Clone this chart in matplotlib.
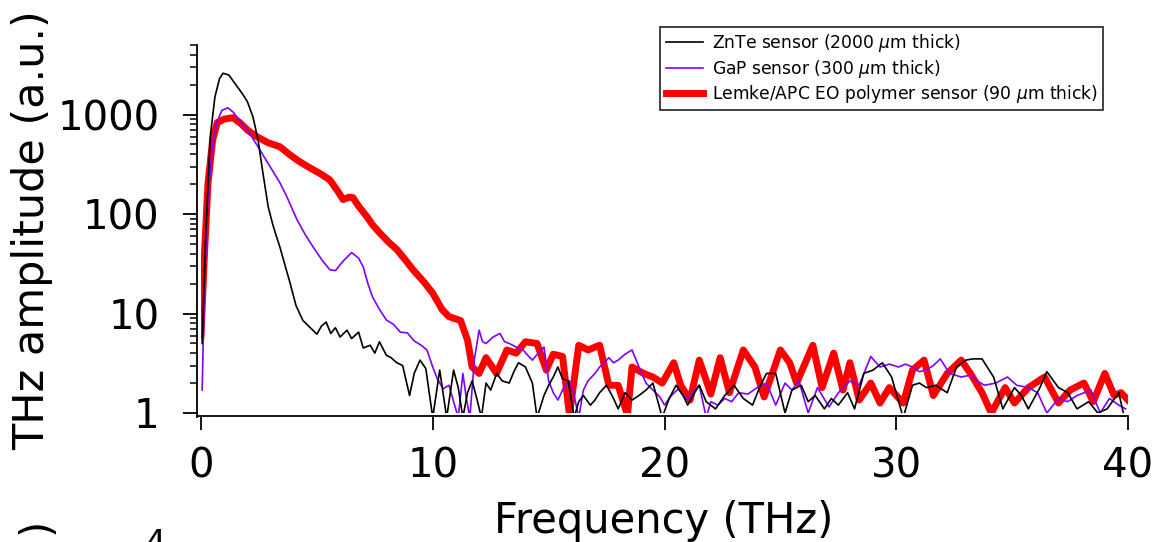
import numpy as np
import matplotlib
matplotlib.use("Agg")
import matplotlib.pyplot as plt

# ---- data (frequency in THz, amplitude in a.u.) ----
znte_f = [0.05, 0.2, 0.4, 0.6, 0.8, 0.95, 1.2, 1.5, 1.8, 2.0,
          2.24, 2.46, 2.67, 2.9, 3.1, 3.25, 3.4, 3.6, 3.85, 4.1,
          4.4, 4.8, 5.0, 5.2, 5.4, 5.6, 5.8, 6.0, 6.3, 6.5,
          6.8, 7.0, 7.3, 7.5, 7.7, 8.0, 8.2, 8.45, 8.7, 9.0,
          9.2, 9.45, 9.7, 10.0, 10.3, 10.6, 10.9, 11.1, 11.3, 11.5,
          11.7, 11.9, 12.1, 12.3, 12.5, 12.76, 13.0, 13.3, 13.5, 13.7,
          14.0, 14.3, 14.5, 14.8, 15.0, 15.2, 15.4, 15.6, 15.85, 16.1,
          16.3, 16.5, 16.8, 17.0, 17.2, 17.5, 17.8, 18.0, 18.3, 18.6,
          18.9, 19.2, 19.5, 19.9, 20.2, 20.5, 20.8, 21.0, 21.3, 21.5,
          21.8, 22.2, 22.6, 23.0, 23.4, 23.8, 24.1, 24.4, 24.8, 25.2,
          25.5, 25.9, 26.2, 26.5, 26.9, 27.2, 27.5, 27.9, 28.2, 28.6,
          29.0, 29.4, 29.8, 30.3, 30.7, 31.0, 31.3, 31.7, 32.2, 32.6,
          33.0, 33.3, 33.7, 34.2, 34.6, 35.1, 35.4, 35.7, 36.2, 36.5,
          37.0, 37.4, 37.8, 38.3, 38.7, 39.1, 39.6, 39.8]
znte_a = [5, 60, 600, 1500, 2300, 2600, 2500, 2000, 1600, 1350,
          950, 560, 260, 118, 78, 60, 47, 32, 20, 12,
          8.5, 6.9, 6.2, 7.5, 8.2, 6.3, 7.2, 5.8, 6.8, 5.6,
          6.5, 4.5, 4.8, 4.0, 5.2, 3.8, 3.6, 3.2, 3.0, 1.5,
          2.5, 3.4, 2.8, 0.9, 2.7, 0.9, 2.7, 1.8, 0.9, 1.6,
          2.1, 1.4, 0.9, 2.0, 1.7, 2.5, 2.1, 2.0, 2.6, 3.2,
          2.9, 2.0, 0.9, 1.5, 1.9, 2.3, 2.9, 2.2, 2.1, 0.9,
          1.3, 1.5, 1.2, 1.35, 1.6, 1.9, 1.4, 1.1, 1.6, 1.35,
          1.5, 1.7, 2.0, 0.9, 1.4, 1.9, 1.5, 1.2, 1.6, 1.9,
          1.3, 1.1, 1.5, 1.9, 1.4, 1.2, 1.8, 2.5, 2.5, 1.0,
          1.7, 1.9, 1.3, 1.5, 1.1, 1.4, 1.2, 1.6, 1.1, 2.5,
          2.7, 3.2, 2.3, 0.9, 1.9, 2.0, 1.8, 1.9, 1.6, 2.9,
          3.4, 3.5, 3.5, 2.3, 1.1, 1.8, 1.5, 1.1, 1.8, 2.6,
          1.8, 1.6, 1.1, 1.3, 1.0, 1.1, 1.6, 1.0]

gap_f = [0.05, 0.15, 0.3, 0.5, 0.7, 0.9, 1.16, 1.4, 1.7, 2.0,
         2.46, 2.8, 3.1, 3.4, 3.7, 4.14, 4.5, 4.83, 5.2, 5.56,
         5.8, 6.1, 6.5, 6.8, 7.0, 7.2, 7.4, 7.7, 8.0, 8.3,
         8.6, 8.9, 9.2, 9.5, 9.75, 10.0, 10.2, 10.45, 10.7, 10.9,
         11.1, 11.3, 11.45, 11.6, 11.8, 12.0, 12.15, 12.3, 12.6, 12.9,
         13.1, 13.3, 13.6, 13.9, 14.1, 14.3, 14.55, 14.8, 15.0, 15.2,
         15.4, 15.65, 15.9, 16.1, 16.3, 16.5, 16.7, 17.0, 17.2, 17.4,
         17.6, 17.8, 18.0, 18.3, 18.6, 18.9, 19.2, 19.5, 19.8, 20.0,
         20.3, 20.6, 20.8, 21.0, 21.2, 21.5, 21.8, 22.0, 22.3, 22.6,
         22.9, 23.2, 23.6, 24.0, 24.4, 24.8, 25.2, 25.5, 25.8, 26.2,
         26.6, 27.1, 27.5, 28.0, 28.4, 28.9, 29.3, 29.7, 30.1, 30.4,
         30.7, 31.0, 31.3, 31.6, 31.9, 32.3, 32.8, 33.2, 33.5, 33.8,
         34.3, 34.8, 35.2, 35.7, 36.1, 36.5, 37.0, 37.4, 37.8, 38.4,
         38.8, 39.2, 39.6, 39.9]
gap_a = [1.7, 20, 150, 500, 850, 1100, 1170, 1050, 850, 700,
         475, 350, 270, 207, 150, 88, 62, 47, 35, 27.5,
         27, 33, 41, 36, 29.5, 20, 14.7, 11, 8.6, 7.8,
         6.5, 6.4, 5.3, 4.8, 4.3, 2.9, 2.2, 1.75, 1.9, 1.3,
         0.9, 2.5, 1.4, 0.9, 3.5, 6.8, 5.2, 5.0, 5.8, 6.3,
         5.2, 5.0, 4.6, 4.3, 3.8, 3.4, 4.0, 4.6, 2.1, 1.6,
         1.35, 1.8, 2.1, 1.5, 0.9, 1.7, 2.1, 2.5, 2.9, 3.2,
         3.6, 3.2, 3.4, 3.9, 4.3, 2.9, 2.0, 1.7, 1.45, 1.2,
         1.5, 1.75, 1.5, 1.35, 1.6, 1.9, 0.9, 1.3, 1.2, 1.4,
         1.3, 1.6, 1.55, 1.8, 2.0, 1.2, 2.0, 1.7, 2.1, 1.0,
         1.8, 1.15, 1.6, 2.1, 1.9, 3.7, 2.9, 3.1, 2.9, 3.1,
         2.9, 2.6, 2.7, 3.0, 3.5, 2.5, 2.3, 2.4, 2.1, 1.9,
         2.0, 2.3, 1.9, 1.8, 1.6, 1.0, 1.4, 1.3, 1.5, 1.7,
         1.0, 1.4, 1.2, 1.1]

eo_f = [0.0, 0.15, 0.3, 0.5, 0.7, 1.0, 1.38, 1.7, 2.0, 2.4,
        2.9, 3.4, 3.8, 4.14, 4.5, 4.83, 5.2, 5.56, 5.9, 6.13,
        6.4, 6.56, 6.8, 7.16, 7.4, 7.7, 8.1, 8.45, 8.8, 9.15,
        9.6, 10.0, 10.4, 10.7, 11.2, 11.5, 11.7, 12.0, 12.3, 12.75,
        13.2, 13.6, 14.0, 14.5, 14.9, 15.2, 15.6, 15.9, 16.3, 16.7,
        17.2, 17.6, 18.0, 18.4, 18.6, 19.1, 19.5, 19.9, 20.4, 20.7,
        21.1, 21.5, 22.0, 22.4, 22.8, 23.4, 23.9, 24.3, 25.0, 25.4,
        25.7, 26.4, 26.8, 27.3, 27.7, 28.0, 28.4, 28.9, 29.3, 29.7,
        30.3, 30.7, 31.2, 31.6, 32.2, 32.8, 33.2, 33.7, 34.1, 34.7,
        35.1, 35.7, 36.4, 37.0, 37.5, 38.1, 38.5, 39.0, 39.4, 39.7,
        40.0]
eo_a = [6, 40, 200, 550, 830, 900, 930, 820, 700, 600,
        520, 475, 400, 350, 310, 280, 250, 220, 170, 140,
        148, 146, 120, 94, 78, 65, 52, 44, 35, 27.5,
        21, 16, 11, 9.3, 8.5, 5.4, 2.9, 2.5, 3.6, 2.5,
        4.3, 4.0, 5.2, 5.0, 2.7, 3.9, 3.7, 0.95, 4.8, 4.3,
        4.8, 1.9, 1.9, 0.95, 2.9, 2.5, 2.3, 2.0, 3.2, 1.9,
        1.35, 3.4, 1.55, 3.6, 1.6, 4.3, 2.9, 1.45, 4.3, 3.2,
        2.0, 4.8, 1.8, 4.0, 1.7, 3.2, 1.35, 2.0, 1.26, 1.8,
        1.26, 2.7, 3.4, 1.5, 2.5, 3.4, 2.5, 1.6, 1.0, 1.8,
        1.26, 1.8, 2.3, 1.26, 1.7, 2.0, 1.3, 2.5, 1.5, 1.6,
        1.35]

labels = ["ZnTe sensor (2000 $\\mu$m thick)",
          "GaP sensor (300 $\\mu$m thick)",
          "Lemke/APC EO polymer sensor (90 $\\mu$m thick)"]
x_ticks = [0, 10, 20, 30, 40]
y_ticks = [1, 10, 100, 1000]
y_ticklabels = ["1", "10", "100", "1000"]

W, H = 1155, 542
fig = plt.figure(figsize=(W / 100, H / 100), dpi=100)
ax = fig.add_axes([201 / W, 1 - 413 / H, (1128 - 201) / W, (413 - 45) / H])

ax.plot(znte_f, znte_a, color="black", lw=1.2, label=labels[0], zorder=3)
ax.plot(gap_f, gap_a, color="#7f00ff", lw=1.2, label=labels[1], zorder=2)
ax.plot(eo_f, eo_a, color="#ff0000", lw=5.0, label=labels[2], zorder=1,
        solid_joinstyle="round")

ax.set_yscale("log")
ax.set_xlim(0, 40)
ax.set_ylim(1, 5000)

# igor style axes: only left/bottom, slightly offset
for s in ["top", "right"]:
    ax.spines[s].set_visible(False)
ax.spines["left"].set_position(("outward", 3))
ax.spines["bottom"].set_position(("outward", 2.2))
for s in ["left", "bottom"]:
    ax.spines[s].set_linewidth(1.3)
ax.spines["bottom"].set_bounds(-4.5 / 23.18, 40)
ax.spines["left"].set_bounds(10 ** (-3.5 / 99.3), 5000)

ax.set_xticks(x_ticks)
ax.set_xticklabels([str(t) for t in x_ticks])
ax.set_yticks(y_ticks)
ax.set_yticklabels(y_ticklabels)
ax.yaxis.set_minor_locator(matplotlib.ticker.LogLocator(base=10, subs=np.arange(2, 10)))
ax.yaxis.set_minor_formatter(matplotlib.ticker.NullFormatter())
ax.tick_params(axis="both", which="major", direction="out", length=10, width=1.3,
               labelsize=29)
ax.tick_params(axis="y", which="major", pad=17)
ax.tick_params(axis="x", which="major", pad=12)
ax.tick_params(axis="y", which="minor", direction="out", length=5, width=1.1)

leg = ax.legend(loc="upper right", bbox_to_anchor=(1103 / W, 1 - 27 / H),
                bbox_transform=fig.transFigure, fontsize=12.3, frameon=True,
                fancybox=False, borderaxespad=0, handlelength=2.2,
                handletextpad=0.5, labelspacing=0.2, borderpad=0.3)
leg.get_frame().set_edgecolor("black")
leg.get_frame().set_linewidth(1.3)

fig.text(664 / W, 1 - 533 / H, "Frequency (THz)", fontsize=30,
         ha="center", va="baseline")
fig.text(44 / W, 1 - 230 / H, "THz amplitude (a.u.)", fontsize=31, rotation=90,
         rotation_mode="anchor", ha="center", va="baseline")

# fragments of the panel below, cut by the figure edge
fig.text(155 / W, 1 - 528 / H, "4", fontsize=24, ha="center", va="top")
fig.text(37 / W, 1 - 518 / H, ")", fontsize=30, rotation=90, ha="center", va="top")

fig.savefig("out.png", dpi=100)
